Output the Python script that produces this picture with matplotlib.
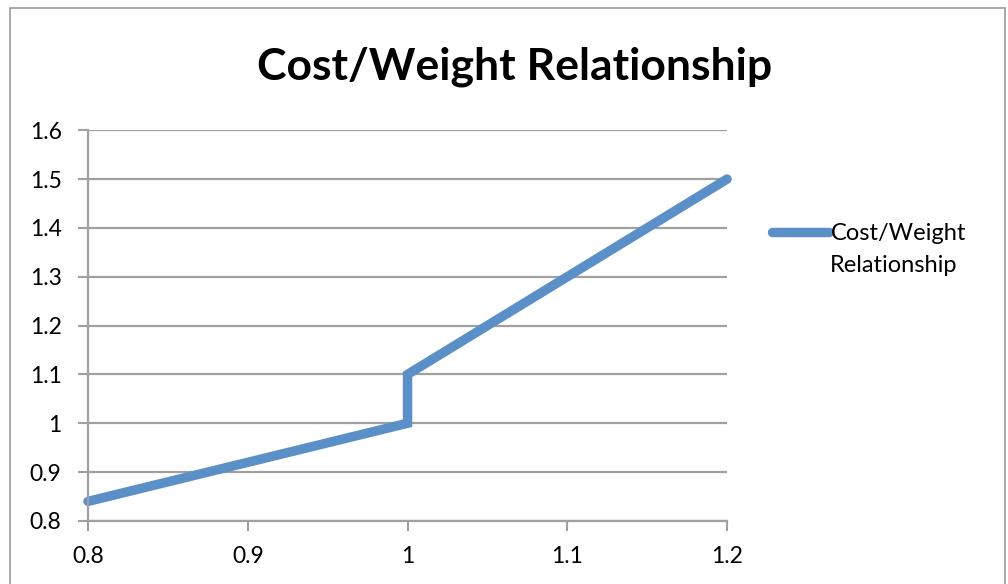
import matplotlib.pyplot as plt
from matplotlib.patches import Rectangle

# Cost/Weight relationship data
weight = [0.8, 1.0, 1.0, 1.2]
cost = [0.84, 1.0, 1.1, 1.5]
x_ticks = [0.8, 0.9, 1.0, 1.1, 1.2]
y_ticks = [0.8, 0.9, 1.0, 1.1, 1.2, 1.3, 1.4, 1.5, 1.6]
x_labels = ['0.8', '0.9', '1', '1.1', '1.2']
y_labels = ['0.8', '0.9', '1', '1.1', '1.2', '1.3', '1.4', '1.5', '1.6']

plt.rcParams['font.family'] = ['Lato', 'DejaVu Sans']
line_color = '#5b8fc8'
grid_color = '#a0a0a0'
W, H = 1008, 584

fig = plt.figure(figsize=(W / 100, H / 100), dpi=100)
# chart frame
fig.patches.append(Rectangle((10 / W, -0.1), 995 / W, 1.0 - 8 / H + 0.1,
                             transform=fig.transFigure, fill=False,
                             edgecolor='#9a9a9a', linewidth=1.2))

ax = fig.add_axes([0.0873, 0.108, 0.634, 0.669])
ax.plot(weight, cost, color=line_color, linewidth=6.8, solid_capstyle='round',
        solid_joinstyle='miter', label='Cost/Weight', clip_on=False)

ax.set_xlim(0.8, 1.2)
ax.set_ylim(0.8, 1.6)
ax.set_xticks(x_ticks)
ax.set_yticks(y_ticks)
ax.set_xticklabels(x_labels)
ax.set_yticklabels(y_labels)
ax.tick_params(colors=grid_color, labelcolor='black', labelsize=16.5, length=7, width=1.5)
ax.tick_params(axis='y', pad=12)
ax.tick_params(axis='x', pad=11)
ax.grid(axis='y', color=grid_color, linewidth=1.6)
ax.set_axisbelow(True)
for side in ['top', 'right']:
    ax.spines[side].set_visible(False)
for side in ['left', 'bottom']:
    ax.spines[side].set_color(grid_color)
    ax.spines[side].set_linewidth(1.6)

fig.text(515 / W, 1 - 67 / H, 'Cost/Weight Relationship', ha='center', va='center',
         fontsize=32, fontweight='bold')

# legend: first line with the handle, second line below it
ax.legend(loc='center left', bbox_to_anchor=(772 / W, 1 - 234 / H),
          bbox_transform=fig.transFigure, frameon=False, fontsize=17,
          handlelength=2.4, handletextpad=0.08, borderpad=0, borderaxespad=0)
fig.text(830 / W, 1 - 266 / H, 'Relationship', ha='left', va='center', fontsize=17)

fig.savefig('out.png', dpi=100)
